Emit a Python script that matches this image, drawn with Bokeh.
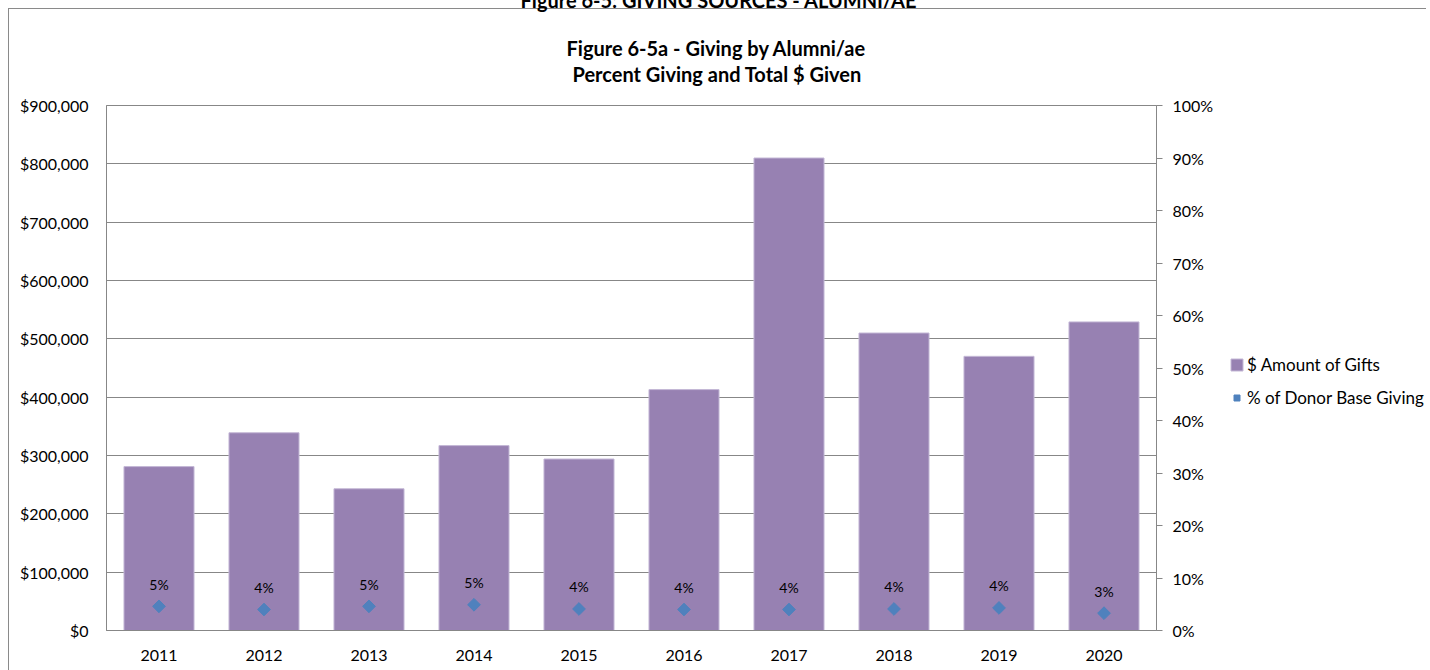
import math
from bokeh.plotting import figure
from bokeh.layouts import row
from bokeh.models import (ColumnDataSource, FactorRange, Range1d, LinearAxis, FixedTicker,
                          NumeralTickFormatter, Legend, LegendItem, Title)
from bokeh.core.properties import value
from bokeh.embed import file_html
from bokeh.resources import INLINE

# ---- data ----
years = ["2011", "2012", "2013", "2014", "2015", "2016", "2017", "2018", "2019", "2020"]
gift_amounts = [281000, 339000, 243000, 317000, 294000, 413000, 810000, 510000, 470000, 529000]
donor_pct = [0.046, 0.040, 0.046, 0.049, 0.041, 0.040, 0.040, 0.041, 0.043, 0.033]
amount_ticks = [0, 100000, 200000, 300000, 400000, 500000, 600000, 700000, 800000, 900000]
pct_ticks = [0.0, 0.1, 0.2, 0.3, 0.4, 0.5, 0.6, 0.7, 0.8, 0.9, 1.0]
page_title = "Figure 6-5: GIVING SOURCES - ALUMNI/AE"
chart_title_1 = "Figure 6-5a - Giving by Alumni/ae"
chart_title_2 = "Percent Giving and Total $ Given"
series_names = ["$ Amount of Gifts", "% of Donor Base Giving"]

FONT = "Lato"
BAR_COLOR = "#9781B2"
BAR_EDGE = "#C4B8D6"
DOT_COLOR = "#4F81BD"
GRID = "#878787"
TICK_SIZE = "16px"
TITLE_SIZE = "20px"
H = 685  # canvas height (shifted up 15px so the page heading is cut at the window top)

src = ColumnDataSource(dict(
    year=years,
    amount=gift_amounts,
    pct=donor_pct,
    label=[f"{round(v * 100):.0f}%" for v in donor_pct],
))

p = figure(x_range=FactorRange(factors=years), y_range=Range1d(0, 900000),
           frame_width=1050, frame_height=525,
           min_border_left=106, min_border_right=60, min_border_top=120, min_border_bottom=40,
           output_backend="svg", toolbar_location=None,
           background_fill_color="white", border_fill_alpha=0)

p.extra_y_ranges = {"pct": Range1d(0, 1)}

bars = p.vbar(x="year", top="amount", width=0.667, source=src,
              fill_color=BAR_COLOR, line_color=BAR_EDGE, line_width=1)
dots = p.scatter(x="year", y="pct", source=src, y_range_name="pct", marker="square",
                 angle=math.pi / 4, size=9, fill_color=DOT_COLOR, line_color=DOT_COLOR)
p.text(x="year", y="pct", text="label", source=src, y_range_name="pct", y_offset=-22,
       text_align="center", text_baseline="middle", text_font=value(FONT),
       text_font_size="14px", text_color="#000000")

# axes / grid
p.outline_line_color = GRID
p.xgrid.grid_line_color = None
p.ygrid.grid_line_color = GRID
p.ygrid.grid_line_width = 1

ly = p.yaxis[0]
ly.ticker = FixedTicker(ticks=amount_ticks)
ly.formatter = NumeralTickFormatter(format="$0,0")
ly.major_tick_out = 0
ly.major_tick_in = 0
ly.minor_tick_out = 0
ly.minor_tick_in = 0
ly.axis_line_color = GRID
ly.major_label_standoff = 18
ly.major_label_text_font = FONT
ly.major_label_text_font_size = TICK_SIZE
ly.major_label_text_color = "#000000"

bx = p.xaxis[0]
bx.major_tick_out = 0
bx.major_tick_in = 0
bx.axis_line_color = GRID
bx.major_label_standoff = 19
bx.major_label_text_font = FONT
bx.major_label_text_font_size = TICK_SIZE
bx.major_label_text_color = "#000000"

ry = LinearAxis(y_range_name="pct", ticker=FixedTicker(ticks=pct_ticks),
                formatter=NumeralTickFormatter(format="0%"))
ry.major_tick_out = 6
ry.major_tick_in = 0
ry.minor_tick_out = 0
ry.minor_tick_in = 0
ry.axis_line_color = GRID
ry.major_tick_line_color = GRID
ry.major_label_standoff = 10
ry.major_label_text_font = FONT
ry.major_label_text_font_size = TICK_SIZE
ry.major_label_text_color = "#000000"
p.add_layout(ry, "right")


def heading(text, offset, standoff=0, size=TITLE_SIZE):
    return Title(text=text, align="left", offset=offset, standoff=standoff,
                 vertical_align="bottom", text_font=FONT, text_font_style="bold",
                 text_font_size=size, text_color="#000000")


def spacer(standoff):
    return Title(text=" ", align="left", standoff=standoff, text_font_size="1px")


# titles stack outward from the frame: spacer, line 2, line 1, spacer; page title outermost
p.add_layout(spacer(17), "above")
p.add_layout(heading(chart_title_2, 466), "above")
p.add_layout(heading(chart_title_1, 460), "above")
p.add_layout(spacer(19), "above")
p.title.text = page_title
p.title.align = "left"
p.title.offset = 414
p.title.standoff = 0
p.title.vertical_align = "bottom"
p.title.text_font = FONT
p.title.text_font_style = "bold"
p.title.text_font_size = TITLE_SIZE
p.title.text_color = "#000000"

# legend panel: a small companion figure to the right whose frame holds the legend.
# Its swatch renderers reuse the series styles; their single point lies outside the
# panel's ranges so only the legend swatches show.
q = figure(width=210, height=H, min_border=0, output_backend="svg", toolbar_location=None,
           x_axis_type=None, y_axis_type=None, outline_line_color=None,
           x_range=Range1d(0, 1), y_range=Range1d(0, 1),
           background_fill_alpha=0, border_fill_alpha=0)
q.xgrid.grid_line_color = None
q.ygrid.grid_line_color = None
lg_bar = q.vbar(x=[5], top=[6], bottom=[5], width=0.667, fill_color=BAR_COLOR, line_color=BAR_EDGE)
lg_dot = q.scatter(x=[5], y=[5], marker="square", angle=math.pi / 4, size=9,
                   fill_color=DOT_COLOR, line_color=DOT_COLOR)
legend = Legend(items=[LegendItem(label=series_names[0], renderers=[lg_bar]),
                       LegendItem(label=series_names[1], renderers=[lg_dot])],
                location=(13, 222), glyph_width=15, glyph_height=15, label_standoff=3,
                spacing=12, padding=0, margin=0, border_line_color=None,
                background_fill_alpha=0, label_text_font=FONT, label_text_font_size="17px",
                label_text_color="#000000")
q.add_layout(legend, "center")

layout = row(p, q)
# shift up so the page heading is cut by the window top; chart-box border drawn via CSS
layout.styles = {
    "margin-top": "-15px",
    "background": ("linear-gradient(#8A8A8A,#8A8A8A) 8px 23px / 1px 100% no-repeat, "
                   "linear-gradient(#8A8A8A,#8A8A8A) 8px 23px / 100% 1px no-repeat, white"),
}

open("out.html", "w").write(file_html(layout, INLINE))
